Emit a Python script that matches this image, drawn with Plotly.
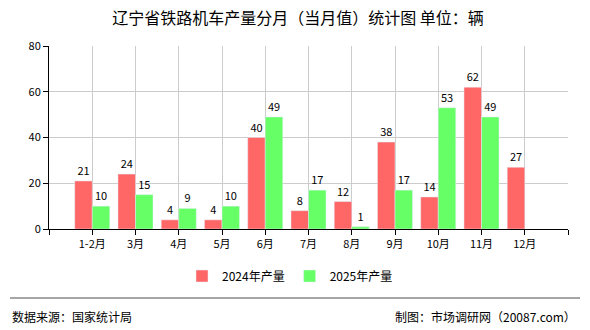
import plotly.graph_objects as go

categories = ["1-2月", "3月", "4月", "5月", "6月", "7月", "8月", "9月", "10月", "11月", "12月"]
values_2024 = [21, 24, 4, 4, 40, 8, 12, 38, 14, 62, 27]
values_2025 = [10, 15, 9, 10, 49, 17, 1, 17, 53, 49, None]
y_ticks = [0, 20, 40, 60, 80]

font_family = "Noto Sans CJK SC"
xs = list(range(len(categories)))

fig = go.Figure()
fig.add_trace(go.Bar(
    x=xs, y=values_2024, name="2024年产量", marker_color="#FF6666",
    text=[str(v) for v in values_2024], textposition="outside",
    textfont=dict(size=11, color="#000000"), cliponaxis=False,
))
fig.add_trace(go.Bar(
    x=xs, y=values_2025, name="2025年产量", marker_color="#66FF66",
    text=["" if v is None else str(v) for v in values_2025], textposition="outside",
    textfont=dict(size=11, color="#000000"), cliponaxis=False,
))

tickvals = [-1] + xs + [len(categories)]
ticktext = [""] + categories + [""]

fig.update_layout(
    width=590, height=330,
    margin=dict(l=49, r=22, t=46, b=101),
    paper_bgcolor="white", plot_bgcolor="white",
    font=dict(family=font_family, size=12, color="#000000"),
    barmode="group", bargap=0.19, bargroupgap=0,
    title=dict(text="辽宁省铁路机车产量分月（当月值）统计图 单位：辆", x=(298 - 0) / 590, xanchor="center",
               y=1 - 18 / 330, yanchor="middle", font=dict(size=16, family=font_family)),
    showlegend=True,
    legend=dict(orientation="h", x=(290 - 49) / 519, xanchor="center", y=-0.257, yanchor="middle",
                font=dict(size=12), itemwidth=30, traceorder="normal"),
    xaxis=dict(range=[-1, len(categories)], tickvals=tickvals, ticktext=ticktext,
               showgrid=True, gridcolor="#CCCCCC", gridwidth=1,
               showline=True, linecolor="#000000", linewidth=1,
               ticks="outside", ticklen=5, tickcolor="#000000",
               tickfont=dict(size=11), zeroline=False, fixedrange=True),
    yaxis=dict(range=[0, 80], tickvals=y_ticks,
               showgrid=True, gridcolor="#CCCCCC", gridwidth=1,
               showline=True, linecolor="#000000", linewidth=1,
               ticks="outside", ticklen=5, tickcolor="#000000",
               tickfont=dict(size=11), zeroline=False),
    shapes=[dict(type="line", xref="paper", yref="paper",
                 x0=(10 - 49) / 519, x1=(580 - 49) / 519,
                 y0=(229 - 298) / 183, y1=(229 - 298) / 183,
                 line=dict(color="#888888", width=1.5))],
    annotations=[
        dict(text="数据来源：国家统计局", xref="paper", yref="paper",
             x=(10 - 49) / 519, y=(229 - 316) / 183, xanchor="left", yanchor="middle",
             showarrow=False, font=dict(size=12, color="#000000")),
        dict(text="制图：市场调研网（20087.com）", xref="paper", yref="paper",
             x=(578 - 49) / 519, y=(229 - 316) / 183, xanchor="right", yanchor="middle",
             showarrow=False, font=dict(size=12, color="#000000")),
    ],
)

fig.write_html("out.html")
